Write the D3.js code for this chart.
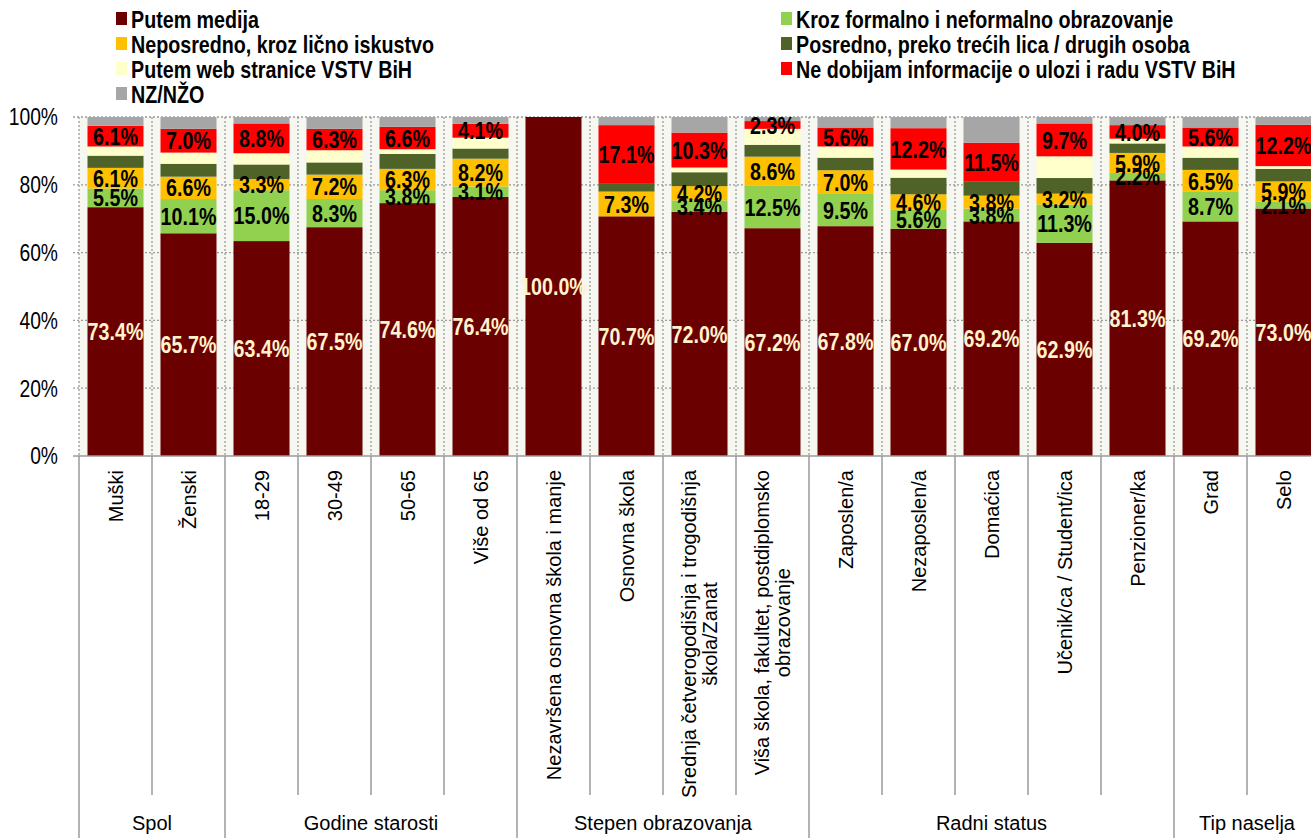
<!DOCTYPE html>
<html><head><meta charset="utf-8">
<script src="https://cdn.jsdelivr.net/npm/d3@7"></script>
<style>
html,body{margin:0;padding:0;background:#fff;overflow:hidden;}
svg{display:block;}
.narrow{font-family:"Liberation Sans",Arial,sans-serif;}
.reg{font-family:"Liberation Sans",Arial,sans-serif;}
</style></head>
<body>
<svg id="chart" width="1311" height="838"></svg>
<script>
const categories = [
  ["Muški"], ["Ženski"], ["18-29"], ["30-49"], ["50-65"], ["Više od 65"],
  ["Nezavršena osnovna škola i manje"], ["Osnovna škola"],
  ["Srednja četverogodišnja i trogodišnja", "škola/Zanat"],
  ["Viša škola, fakultet, postdiplomsko", "obrazovanje"],
  ["Zaposlen/a"], ["Nezaposlen/a"], ["Domaćica"], ["Učenik/ca / Student/ica"], ["Penzioner/ka"],
  ["Grad"], ["Selo"]
];
const groupNames = ["Spol", "Godine starosti", "Stepen obrazovanja", "Radni status", "Tip naselja"];
const groupSizes = [2, 4, 4, 5, 2];

const seriesNames = [
  "Putem medija", "Kroz formalno i neformalno obrazovanje", "Neposredno, kroz lično iskustvo",
  "Posredno, preko trećih lica / drugih osoba", "Putem web stranice VSTV BiH",
  "Ne dobijam informacije o ulozi i radu VSTV BiH", "NZ/NŽO"
];
const seriesColors = ["#6B0000", "#92D050", "#FFC000", "#4F6228", "#FFFFCC", "#FF0000", "#A6A6A6"];

const medija     = [73.4, 65.7, 63.4, 67.5, 74.6, 76.4, 100.0, 70.7, 72.0, 67.2, 67.8, 67.0, 69.2, 62.9, 81.3, 69.2, 73.0];
const formalno   = [5.5, 10.1, 15.0, 8.3, 3.8, 3.1, 0, 0, 3.4, 12.5, 9.5, 5.6, 3.8, 11.3, 2.2, 8.7, 2.1];
const neposredno = [6.1, 6.6, 3.3, 7.2, 6.3, 8.2, 0, 7.3, 4.2, 8.6, 7.0, 4.6, 3.8, 3.2, 5.9, 6.5, 5.9];
const posredno   = [3.6, 3.8, 4.3, 3.6, 4.4, 3.0, 0, 2.5, 4.1, 3.5, 3.7, 4.9, 4.1, 4.6, 2.8, 3.6, 3.7];
const web        = [2.7, 3.3, 3.3, 3.6, 1.4, 3.2, 0, 0, 1.4, 4.7, 3.3, 2.4, 0, 6.4, 1.4, 3.3, 0.8];
const neDobijam  = [6.1, 7.0, 8.8, 6.3, 6.6, 4.1, 0, 17.1, 10.3, 2.3, 5.6, 12.2, 11.5, 9.7, 4.0, 5.6, 12.2];
const nzNzo      = [2.6, 3.5, 1.9, 3.5, 2.9, 2.0, 0, 2.4, 4.6, 1.2, 3.1, 3.3, 7.6, 1.9, 2.4, 3.1, 2.3];

const yTicks = [0, 20, 40, 60, 80, 100];
const labelledSeries = [0, 1, 2, 5];

const seriesValues = [medija, formalno, neposredno, posredno, web, neDobijam, nzNzo];
const keys = seriesNames;
const table = categories.map((c, i) => {
  const row = {cat: c.join(" ")};
  keys.forEach((k, s) => row[k] = seriesValues[s][i]);
  return row;
});

const svg = d3.select("#chart");
const mLeft = 79, mTop = 117, mBottom = 456, step = 73;
const mRight = mLeft + step * categories.length;

const x = d3.scaleBand().domain(table.map(d => d.cat)).range([mLeft, mRight])
  .paddingInner(17 / 73).paddingOuter(17 / 146);
const y = d3.scaleLinear().domain([0, 100]).range([mBottom, mTop]);

// plot background
svg.append("rect").attr("x", mLeft).attr("y", mTop).attr("width", mRight - mLeft).attr("height", mBottom - mTop)
  .attr("fill", "#F5F7F0");

// gridlines
svg.append("g").selectAll("line").data(yTicks.filter(t => t > 0)).join("line")
  .attr("x1", mLeft - 6).attr("x2", mRight).attr("y1", d => y(d)).attr("y2", d => y(d))
  .attr("stroke", "#9a9a9a").attr("stroke-width", 1.3).attr("stroke-dasharray", "2,2");
// vertical dotted separators inside plot
const bounds = d3.range(categories.length + 1).map(i => mLeft + i * x.step());
svg.append("g").selectAll("line").data(bounds).join("line")
  .attr("x1", d => d).attr("x2", d => d).attr("y1", mTop).attr("y2", mBottom)
  .attr("stroke", "#9a9a9a").attr("stroke-width", 1.3).attr("stroke-dasharray", "2,2");

// stacked bars
const stack = d3.stack().keys(keys);
const stacked = stack(table);
const gBars = svg.append("g");
stacked.forEach((layer, s) => {
  gBars.append("g").attr("fill", seriesColors[s]).selectAll("rect").data(layer).join("rect")
    .attr("x", d => x(d.data.cat)).attr("width", x.bandwidth())
    .attr("y", d => y(d[1])).attr("height", d => Math.max(0, y(d[0]) - y(d[1])));
});

// data labels
const gLab = svg.append("g").attr("class", "narrow").attr("font-weight", "bold").attr("font-size", 24)
  .attr("text-anchor", "middle");
labelledSeries.forEach(s => {
  gLab.append("g").selectAll("text").data(stacked[s].filter(d => d[1] - d[0] > 0)).join("text")
    .attr("x", d => x(d.data.cat) + x.bandwidth() / 2)
    .attr("y", d => y((d[0] + d[1]) / 2))
    .attr("dy", "0.36em")
    .attr("fill", s === 0 ? "#FFF2CC" : "#000")
    .text(d => (d[1] - d[0]).toFixed(1) + "%");
});

// bottom axis line
svg.append("line").attr("x1", mLeft - 6).attr("x2", mRight).attr("y1", mBottom).attr("y2", mBottom)
  .attr("stroke", "#9a9a9a").attr("stroke-width", 1.5);

// y axis labels
svg.append("g").attr("class", "narrow").attr("font-size", 23.5).attr("text-anchor", "end")
  .selectAll("text").data(yTicks).join("text")
  .attr("x", 58).attr("y", d => y(d)).attr("dy", "0.36em").attr("fill", "#000")
  .text(d => d + "%");

// category separators below axis
let groupStarts = [0];
groupSizes.reduce((a, b) => { groupStarts.push(a + b); return a + b; }, 0);
svg.append("g").selectAll("line").data(bounds.map((b, i) => ({b, i}))).join("line")
  .attr("x1", d => d.b).attr("x2", d => d.b).attr("y1", mBottom)
  .attr("y2", d => groupStarts.includes(d.i) ? 838 : 795)
  .attr("stroke", "#9a9a9a").attr("stroke-width", 1.5);

// category labels (rotated)
const gCat = svg.append("g").attr("class", "reg").attr("font-size", 20).attr("fill", "#000");
categories.forEach((lines, i) => {
  const cx = x(table[i].cat) + x.bandwidth() / 2;
  const g = gCat.append("g");
  const texts = lines.map((ln, j) => g.append("text").attr("text-anchor", "middle").text(ln));
  const maxLen = d3.max(texts, t => t.node().getComputedTextLength());
  const cy = 470 + maxLen / 2;
  const n = lines.length;
  texts.forEach((t, j) => {
    const off = (j - (n - 1) / 2) * 21;
    t.attr("transform", `translate(${cx + off},${cy}) rotate(-90)`).attr("dy", "0.35em");
  });
});

// group labels
svg.append("g").attr("class", "reg").attr("font-size", 20).attr("text-anchor", "middle")
  .selectAll("text").data(groupNames).join("text")
  .attr("x", (d, i) => (bounds[groupStarts[i]] + bounds[groupStarts[i + 1]]) / 2)
  .attr("y", 830).text(d => d);

// legend
const legendPos = [
  [116, 19], [781, 19], [116, 44], [781, 44], [116, 69], [781, 69], [116, 94]
];
const gLeg = svg.append("g").attr("class", "narrow").attr("font-weight", "bold").attr("font-size", 24);
seriesNames.forEach((name, s) => {
  const [lx, ly] = legendPos[s];
  gLeg.append("rect").attr("x", lx).attr("y", ly - 7).attr("width", 11).attr("height", 13)
    .attr("fill", seriesColors[s]);
  gLeg.append("text").attr("x", lx + 15).attr("y", ly).attr("dy", "0.36em").text(name);
});

// condense "narrow" texts horizontally (Arial Narrow look)
svg.selectAll(".narrow text").each(function() {
  const w = this.getComputedTextLength();
  d3.select(this).attr("textLength", w * 0.82).attr("lengthAdjust", "spacingAndGlyphs");
});
</script>
</body></html>
